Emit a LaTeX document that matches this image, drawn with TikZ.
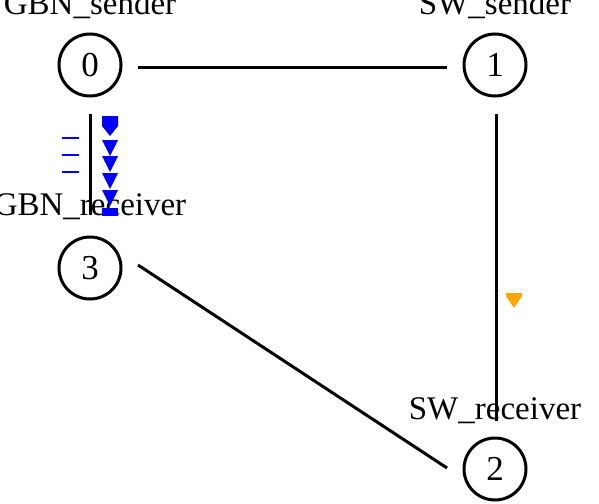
\documentclass[tikz,border=0pt]{standalone}
\usepackage{fontspec}
\setmainfont{Liberation Serif}
\definecolor{pktorange}{RGB}{255,165,0}
\begin{document}
\begin{tikzpicture}[x=1pt,y=-1pt,
  state/.style={circle,draw=black,line width=3pt,minimum size=62pt,inner sep=0pt,font=\fontsize{35}{40}\selectfont},
  lbl/.style={anchor=base,inner sep=0pt,font=\fontsize{33}{38}\selectfont},
  edge/.style={line width=3pt,black},
  pkt/.style={fill=blue,draw=none},
  tick/.style={blue,line width=1.2pt},
  opkt/.style={fill=pktorange,draw=none}]
\useasboundingbox (0,0) rectangle (599,503);
\node[state] (n0) at (90,65) {0};
\node[state] (n1) at (495,65) {1};
\node[state] (n2) at (495,469) {2};
\node[state] (n3) at (90,268) {3};
\node[lbl] (l0) at (90,15) {GBN\_sender};
\node[lbl] (l1) at (495,15) {SW\_sender};
\node[lbl] (l2) at (495,419) {SW\_receiver};
\node[lbl] (l3) at (90,215) {GBN\_receiver};
\coordinate (a0) at (138,67);
\coordinate (a1) at (447,67);
\coordinate (b1) at (496,114);
\coordinate (b2) at (496,421);
\coordinate (c0) at (90,114);
\coordinate (c3) at (90,215);
\coordinate (d3) at (138,265);
\coordinate (d2) at (447,468);
\draw[edge] (a0) -- (a1);
\draw[edge] (b1) -- (b2);
\draw[edge] (c0) -- (c3);
\draw[edge] (d3) -- (d2);
% blue packets
\fill[pkt] (102,116) -- (118,116) -- (118,126) -- (110,136) -- (102,126) -- cycle;
\foreach \t in {140,156,173,190} {
  \fill[pkt] (102,\t) -- (118,\t) -- (110,\t+16) -- cycle;
}
\fill[pkt] (102,208) rectangle (118,216);
\foreach \t in {138,155,172} {
  \draw[tick] (62,\t) -- (79,\t);
}
% orange packet
\fill[opkt] (506,293) -- (522,293) -- (522,296) -- (514,308) -- (506,296) -- cycle;
\end{tikzpicture}
\end{document}
